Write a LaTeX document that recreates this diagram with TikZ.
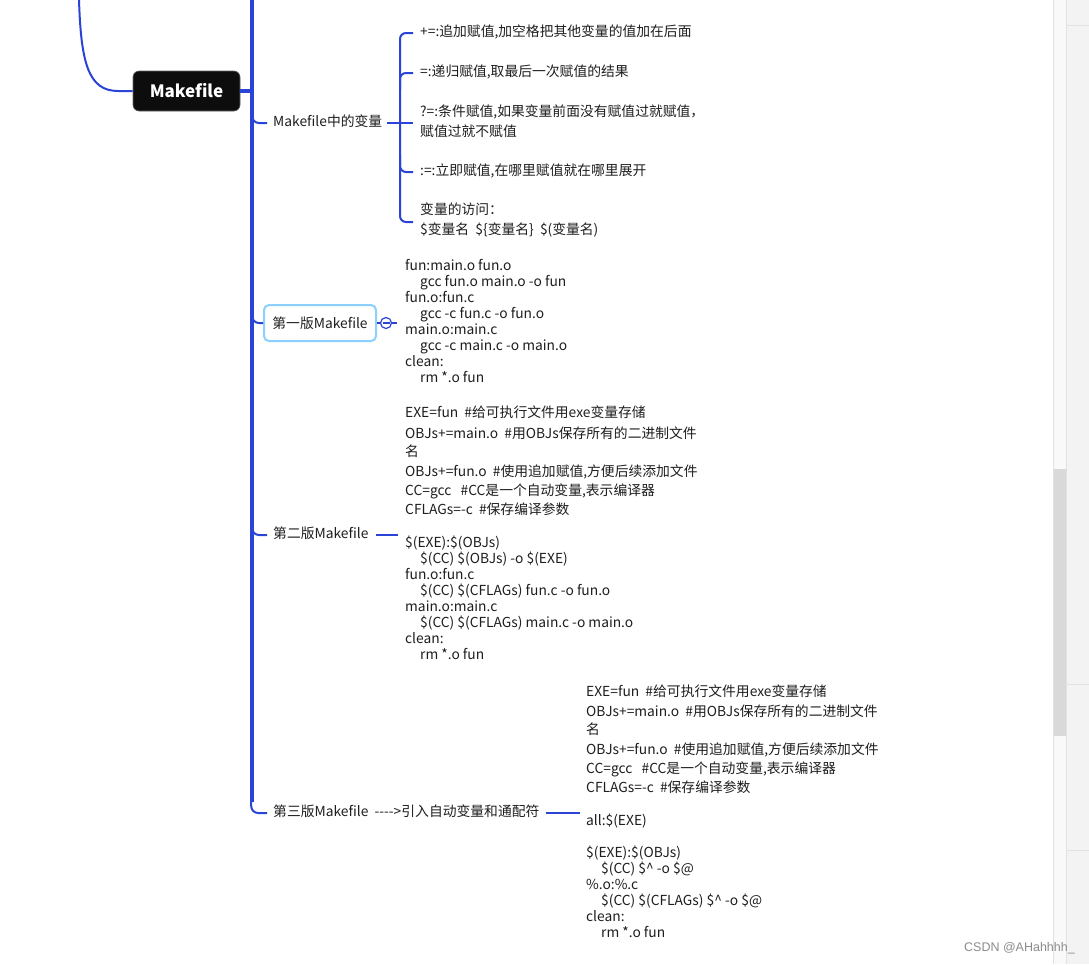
\documentclass[tikz,border=0pt]{standalone}
\usepackage{fontspec}
\setmainfont{Noto Sans CJK SC}[Ligatures=NoCommon]
\newfontfamily\wmfont{Liberation Sans}
\definecolor{lnblue}{RGB}{42,68,215}
\definecolor{boxblue}{RGB}{140,208,255}
\definecolor{txtc}{RGB}{30,30,30}
\definecolor{panel}{RGB}{243,243,243}
\definecolor{panelline}{RGB}{226,226,226}
\definecolor{track}{RGB}{249,249,249}
\definecolor{thumb}{RGB}{217,217,217}
\newcommand\mline[4]{\node[txt] (#1) at (#2,#3) {#4};}
\begin{document}
\begin{tikzpicture}[x=1pt,y=-1pt,
  txt/.style={anchor=west,inner sep=0pt,text=txtc,font=\fontsize{13.8}{16}\selectfont,text height=10pt,text depth=2.8pt},
  trunk/.style={draw=lnblue,line width=3.2pt},
  branch/.style={draw=lnblue,line width=2pt,rounded corners=7pt},
  brace/.style={draw=lnblue,line width=2pt,rounded corners=6pt}]
\useasboundingbox (0,0) rectangle (1089,964);
\clip (0,0) rectangle (1089,964);
\fill[white] (0,0) rectangle (1089,964);
% right side panel & scrollbar
\fill[panel] (1066,0) rectangle (1089,964);
\draw[panelline,line width=0.8pt] (1066,25) -- (1089,25);
\draw[panelline,line width=0.8pt] (1066,684) -- (1089,684);
\draw[panelline,line width=0.8pt] (1066,850) -- (1089,850);
\fill[track] (1053,0) rectangle (1066,964);
\draw[panelline,line width=0.8pt] (1053,0) -- (1053,964);
\draw[panelline,line width=0.8pt] (1066,0) -- (1066,964);
\fill[thumb] (1053.5,469) rectangle (1065.5,736);

% root
\coordinate (topin) at (79,0);
\node[fill=black!95,draw=black!60,line width=0.6pt,rounded corners=6pt,minimum width=107pt,minimum height=40pt,inner sep=0pt,text=white,font=\fontsize{17}{20}\selectfont\bfseries] (root) at (186.5,91) {Makefile};
\draw[draw=lnblue,line width=2pt] (topin) .. controls (81,62) and (88,91) .. (118,91) -- (root.west);
\coordinate (ttop) at (252,0);
\coordinate (tend) at (252,802);
\draw[trunk] (root.east) -- (252,91);
\draw[trunk] (ttop) -- (tend);

% level-1 nodes
\node[txt] (vars) at (273,123) {Makefile中的变量};
\node[draw=boxblue,line width=2pt,rounded corners=5pt,minimum width=112pt,minimum height=36pt,inner sep=0pt,text=txtc,font=\fontsize{13.8}{16}\selectfont] (v1) at (320,323) {第一版Makefile};
\node[txt] (v2) at (273,535) {第二版Makefile};
\node[txt] (v3) at (273,813) {第三版Makefile\ \ -{}-{}-{}->引入自动变量和通配符};

\draw[branch] (252,105) |- ([xshift=-6pt]vars.west);
\draw[branch] (252,300) |- (v1.west);
\draw[branch] (252,500) |- ([xshift=-6pt]v2.west);
\draw[branch] (251.2,790) |- ([xshift=-6pt]v3.west);

% top cut text
\node[txt] (cut) at (438,-6) {一个目标也可以没有依赖，只执行指令};

% variables subtree
\mline{a1}{420}{33}{+=:追加赋值,加空格把其他变量的值加在后面}
\mline{a2}{420}{73}{=:递归赋值,取最后一次赋值的结果}
\mline{a3}{420}{113}{?=:条件赋值,如果变量前面没有赋值过就赋值，}
\mline{a3b}{420}{133}{赋值过就不赋值}
\mline{a4}{420}{172}{:=:立即赋值,在哪里赋值就在哪里展开}
\mline{a5}{420}{211}{变量的访问：}
\mline{a5b}{420}{231}{\$变量名\ \ \$\{变量名\}\ \ \$(变量名)}
\coordinate (hub) at (400,123);
\draw[draw=lnblue,line width=2.4pt] ([xshift=5pt]vars.east) -- (hub);
\draw[brace] (413,33) -| (400,222) -- (413,222);
\draw[brace] (400,90) |- (413,73);
\draw[draw=lnblue,line width=2pt] (hub) -- (413,123);
\draw[brace] (400,155) |- (413,172);

% version 1
\node[circle,draw=lnblue,line width=1.2pt,fill=white,minimum size=11pt,inner sep=0pt] (col) at (386,323) {};
\draw[draw=lnblue,line width=1.1pt] (382.5,323) -- (389.5,323);
\coordinate (c1end) at (397,323);
\draw[draw=lnblue,line width=1.6pt] (v1.east) -- (col.west);
\draw[draw=lnblue,line width=1.6pt] (col.east) -- (c1end);
\mline{b1}{405}{267}{fun:main.o fun.o}
\mline{b2}{420}{283}{gcc fun.o main.o -o fun}
\mline{b3}{405}{299}{fun.o:fun.c}
\mline{b4}{420}{315}{gcc -c fun.c -o fun.o}
\mline{b5}{405}{331}{main.o:main.c}
\mline{b6}{420}{347}{gcc -c main.c -o main.o}
\mline{b7}{405}{363}{clean:}
\mline{b8}{420}{379}{rm *.o fun}

% version 2
\coordinate (c2end) at (398,535);
\draw[draw=lnblue,line width=2pt] ([xshift=7pt]v2.east) -- (c2end);
\mline{d1}{405}{414}{EXE=fun\ \ \#给可执行文件用exe变量存储}
\mline{d2}{405}{435}{OBJs+=main.o\ \ \#用OBJs保存所有的二进制文件}
\mline{d3}{405}{453}{名}
\mline{d4}{405}{473}{OBJs+=fun.o\ \ \#使用追加赋值,方便后续添加文件}
\mline{d5}{405}{492}{CC=gcc\ \ \ \#CC是一个自动变量,表示编译器}
\mline{d6}{405}{511}{CFLAGs=-c\ \ \#保存编译参数}
\mline{d7}{405}{544}{\$(EXE):\$(OBJs)}
\mline{d8}{420}{560}{\$(CC) \$(OBJs) -o \$(EXE)}
\mline{d9}{405}{576}{fun.o:fun.c}
\mline{d10}{420}{592}{\$(CC) \$(CFLAGs) fun.c -o fun.o}
\mline{d11}{405}{608}{main.o:main.c}
\mline{d12}{420}{624}{\$(CC) \$(CFLAGs) main.c -o main.o}
\mline{d13}{405}{640}{clean:}
\mline{d14}{420}{656}{rm *.o fun}

% version 3
\coordinate (c3end) at (580,813);
\draw[draw=lnblue,line width=2pt] ([xshift=6pt]v3.east) -- (c3end);
\mline{e1}{586}{693}{EXE=fun\ \ \#给可执行文件用exe变量存储}
\mline{e2}{586}{713}{OBJs+=main.o\ \ \#用OBJs保存所有的二进制文件}
\mline{e3}{586}{731}{名}
\mline{e4}{586}{751}{OBJs+=fun.o\ \ \#使用追加赋值,方便后续添加文件}
\mline{e5}{586}{770}{CC=gcc\ \ \ \#CC是一个自动变量,表示编译器}
\mline{e6}{586}{789}{CFLAGs=-c\ \ \#保存编译参数}
\mline{e7}{586}{822}{all:\$(EXE)}
\mline{e8}{586}{854}{\$(EXE):\$(OBJs)}
\mline{e9}{601}{870}{\$(CC) \$\textasciicircum{} -o \$@}
\mline{e10}{586}{886}{\%.o:\%.c}
\mline{e11}{601}{902}{\$(CC) \$(CFLAGs) \$\textasciicircum{} -o \$@}
\mline{e12}{586}{918}{clean:}
\mline{e13}{601}{934}{rm *.o fun}

% watermark
\node[anchor=east,inner sep=0pt,text=black!45,font=\wmfont\fontsize{12.5}{14}\selectfont] (wm) at (1075,948) {CSDN @AHahhhh\_};
\end{tikzpicture}
\end{document}
